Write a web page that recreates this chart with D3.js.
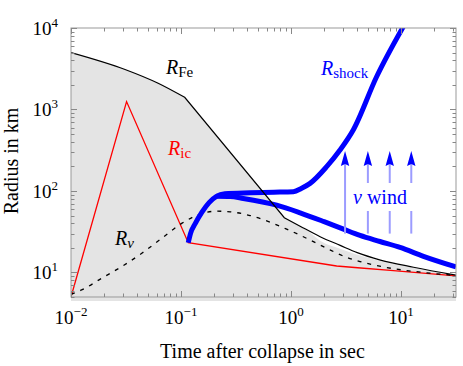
<!DOCTYPE html>
<html><head><meta charset="utf-8">
<script src="https://cdn.jsdelivr.net/npm/d3@7"></script>
<style>
html,body{margin:0;padding:0;background:#fff;}
svg{display:block;font-family:"Liberation Serif","Times New Roman",serif;}
</style>
</head><body>
<svg id="chart" width="463" height="366"></svg>
<script>
// ---------- data ----------
const xDomain = [0.01, Math.pow(10, 1.5)];
const yDomain = [5, 10000];
const xTickExps = [-2, -1, 0, 1];
const yTickExps = [1, 2, 3, 4];
const xTitle = "Time after collapse in sec";
const yTitle = "Radius in km";

// iron core radius (black), kinks at index 3 and 4
const rFe = [[0.01,5000],[0.031,3100],[0.062,2100],[0.108,1410],[0.87,47],[1.21,37],[1.84,27.5],[2.8,21.5],[4,17.5],[6.5,14.2],[13,11.6],[31.6,9.3]];
const rFeKinks = [3, 4];
// upper edge of the grey shaded region
const greyEdge = [[0.01,5000],[0.031,3100],[0.062,2100],[0.108,1410],[0.87,47],[1.21,37],[1.4,33],[1.84,24.5],[2.8,19.5],[4,16.5],[6.5,13.8],[13,11.4],[31.6,9.3]];
const greyKinks = [3, 4];
// inner core radius (red), kinks at peak, bounce, and 2.6 s
const rIc = [[0.01,5],[0.032,1250],[0.1164,23.2],[2.6,12.0],[8,10.6],[31.6,9.1]];
const rIcKinks = [1, 2, 3];
// neutrinosphere (dashed)
const rNu = [[0.01,5.4],[0.0125,6.1],[0.019,8.5],[0.0289,11.8],[0.044,17.2],[0.0669,26.3],[0.1014,40],[0.149,52],[0.21,56.5],[0.28,55.5],[0.424,50],[0.914,34],[1.49,25],[2.11,19.8],[3.21,15.3],[4.24,13.6],[5.6,12.4],[18.4,9.8],[31.6,9.2]];
// shock radius (blue)
const rShock = [[0.1164,23.2],[0.122,30],[0.135,40],[0.155,55],[0.18,72],[0.21,86],[0.25,92.5],[0.424,95],[0.7,96.5],[1.05,98],[1.25,108],[1.49,124],[2.11,199],[2.79,318],[3.68,560],[6.0,2520],[10.5,10400]];
// neutrino-driven wind branch (blue)
const rWind = [[0.21,86],[0.28,85.5],[0.368,81],[0.741,67],[1.21,54],[2,42],[3,34],[4.24,28.5],[6.44,24],[9.8,20.3],[16,15.8],[31.6,11.7]];
// wind arrows
const arrowT = [3.1, 5.0, 7.9, 12.4];
const arrowR = [30, 310];

// ---------- setup ----------
const svg = d3.select("#chart");
const L = 71, R = 456, T = 28, B = 297;
const x = d3.scaleLog().domain(xDomain).range([L, R]);
const y = d3.scaleLog().domain(yDomain).range([B, T]);

svg.append("defs").append("clipPath").attr("id","clip")
  .append("rect").attr("x",L).attr("y",T).attr("width",R-L).attr("height",B-T);

const lineMono = d3.line().x(d=>x(d[0])).y(d=>y(d[1])).curve(d3.curveMonotoneX);

function piecewise(data, kinks){
  const cuts = [0, ...kinks, data.length-1];
  let p = "";
  for(let i=0;i<cuts.length-1;i++){
    const seg = data.slice(cuts[i], cuts[i+1]+1);
    let s = lineMono(seg);
    if(i>0) s = "L" + s.slice(1);
    p += s;
  }
  return p;
}

const g = svg.append("g").attr("clip-path","url(#clip)");

// grey fill
const greyPath = piecewise(greyEdge, greyKinks) + `L${R},${B}L${L},${B}Z`;
g.append("path").attr("d", greyPath).attr("fill","#e4e4e4").attr("stroke","none");
svg.append("rect").attr("x",L).attr("y",B).attr("width",R-L).attr("height",4).attr("fill","#e4e4e4");

// red inner core
g.append("path").attr("d", piecewise(rIc, rIcKinks)).attr("fill","none").attr("stroke","#ff0000").attr("stroke-width",1.3);
// dashed neutrinosphere
g.append("path").attr("d", lineMono(rNu)).attr("fill","none").attr("stroke","#000").attr("stroke-width",1.3).attr("stroke-dasharray","4,6");

// wind arrows
const ag = svg.append("g");
arrowT.forEach(t=>{
  const ax = x(t), y0 = y(arrowR[0]), y1 = y(arrowR[1]);
  ag.append("line").attr("x1",ax).attr("x2",ax).attr("y1",y0).attr("y2",y1+10)
    .attr("stroke","#9c9cff").attr("stroke-width",2);
  ag.append("path").attr("d",`M${ax},${y1}L${ax+4.2},${y1+15}L${ax},${y1+13}L${ax-4.2},${y1+15}Z`)
    .attr("fill","#0000ff");
});
// nu wind label with white background
svg.append("rect").attr("x",349).attr("y",183).attr("width",67).attr("height",28).attr("fill","#fff");
const tw = svg.append("text").attr("x",353).attr("y",204).attr("font-size",20).attr("fill","#0000ff");
tw.append("tspan").attr("font-style","italic").text("ν");
tw.append("tspan").text(" wind");

// blue shock lines
g.append("path").attr("d", lineMono(rWind)).attr("fill","none").attr("stroke","#0000ff").attr("stroke-width",5);
g.append("path").attr("d", lineMono(rShock)).attr("fill","none").attr("stroke","#0000ff").attr("stroke-width",5);

// black iron core on top
g.append("path").attr("d", piecewise(rFe, rFeKinks)).attr("fill","none").attr("stroke","#000").attr("stroke-width",1.2);

// ---------- frame & ticks ----------
const frameCol = "#999";
svg.append("rect").attr("x",L).attr("y",T).attr("width",R-L).attr("height",B-T)
  .attr("fill","none").attr("stroke",frameCol).attr("stroke-width",1);

const xTicks = [];
for(let e=-2;e<=1;e++) for(let k=1;k<=9;k++){const v=k*Math.pow(10,e); if(v<=xDomain[1]+1e-9) xTicks.push({v, major:k===1});}
const yTicks = [];
for(let e=0;e<=4;e++) for(let k=1;k<=9;k++){const v=k*Math.pow(10,e); if(v>=yDomain[0]-1e-9 && v<=yDomain[1]+1e-9) yTicks.push({v, major:k===1});}
const tk = svg.append("g").attr("stroke","#888").attr("stroke-width",1);
xTicks.forEach(t=>{
  const px = Math.round(x(t.v))+0.5, len = t.major?6:3.5;
  tk.append("line").attr("x1",px).attr("x2",px).attr("y1",B).attr("y2",B-len);
  tk.append("line").attr("x1",px).attr("x2",px).attr("y1",T).attr("y2",T+len);
});
yTicks.forEach(t=>{
  const py = Math.round(y(t.v))+0.5, len = t.major?6:3.5;
  tk.append("line").attr("x1",L).attr("x2",L+len).attr("y1",py).attr("y2",py);
  tk.append("line").attr("x1",R).attr("x2",R-len).attr("y1",py).attr("y2",py);
});

function expText(e){ return e<0 ? "\u2212"+(-e) : String(e); }
xTickExps.forEach(e=>{
  const t = svg.append("text").attr("x",x(Math.pow(10,e))).attr("y",324)
    .attr("text-anchor","middle").attr("font-size",19).attr("fill","#000");
  t.append("tspan").text("10");
  t.append("tspan").attr("dy",-8).attr("font-size",13).text(expText(e));
});
yTickExps.forEach(e=>{
  const t = svg.append("text").attr("x",58).attr("y",y(Math.pow(10,e))+7)
    .attr("text-anchor","end").attr("font-size",19).attr("fill","#000");
  t.append("tspan").text("10");
  t.append("tspan").attr("dy",-8).attr("font-size",13).text(expText(e));
});

// axis titles
svg.append("text").attr("x",262.5).attr("y",358).attr("text-anchor","middle")
  .attr("font-size",20).attr("fill","#000").text(xTitle);
svg.append("text").attr("transform","translate(18,161) rotate(-90)").attr("text-anchor","middle")
  .attr("font-size",20).attr("fill","#000").text(yTitle);

// curve labels
function rLabel(px, py, sub, col, subItalic){
  const t = svg.append("text").attr("x",px).attr("y",py).attr("font-size",20).attr("fill",col);
  t.append("tspan").attr("font-style","italic").text("R");
  const s = t.append("tspan").attr("dy",3).attr("font-size",15).text(sub);
  if(subItalic) s.attr("font-style","italic");
}
rLabel(166, 74, "Fe", "#000", false);
rLabel(321, 75, "shock", "#0000ff", false);
rLabel(168, 155, "ic", "#ff0000", false);
rLabel(115, 245, "ν", "#000", true);
</script>
</body></html>
